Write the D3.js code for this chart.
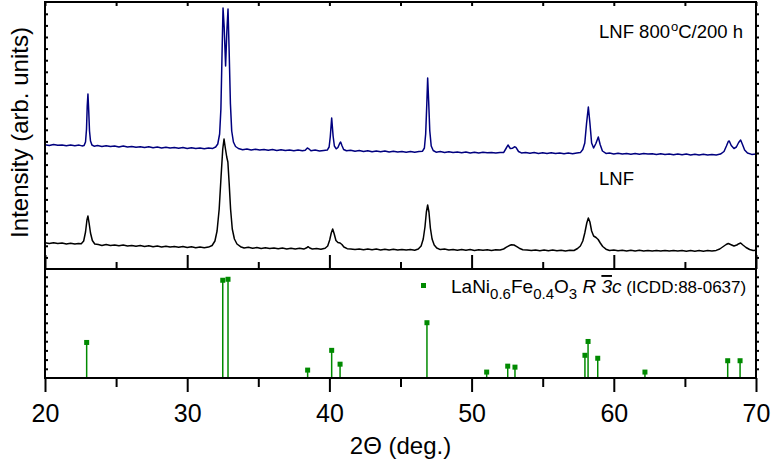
<!DOCTYPE html>
<html>
<head>
<meta charset="utf-8">
<script src="https://cdn.jsdelivr.net/npm/d3@7"></script>
<style>
  body { margin: 0; background: #fff; }
  svg { display: block; font-family: "Liberation Sans", Arial, sans-serif; }
</style>
</head>
<body>
<svg width="772" height="466"></svg>
<script>
// XRD patterns, 2theta (deg) vs intensity (arb. units, already offset as plotted)
var lnf800 = [
 [20.0,124.3],[20.3,123.5],[20.6,124.6],[20.9,123.8],[21.2,124.1],[21.5,123.2],[21.8,124.0],[22.1,123.3],[22.4,123.9],[22.6,123.1],
 [22.75,123.6],[22.85,127],[22.92,140],[22.97,163],[23.02,175],[23.07,160],[23.13,138],[23.2,128],[23.3,124],[23.45,122.8],
 [23.7,123.5],[24.0,122.6],[24.3,123.3],[24.6,122.4],[24.9,123.0],[25.2,122.1],[25.5,122.9],[25.8,121.9],[26.1,122.6],[26.4,121.7],
 [26.7,122.3],[27.0,121.4],[27.3,122.2],[27.6,121.3],[27.9,121.9],[28.2,121.0],[28.5,121.8],[28.8,120.9],[29.1,121.6],[29.4,120.7],
 [29.7,121.4],[30.0,120.6],[30.3,121.3],[30.6,120.4],[30.9,121.1],[31.2,120.3],[31.5,121.0],[31.8,120.6],[32.0,122],[32.15,125],
 [32.28,135],[32.37,160],[32.45,215],[32.52,261],[32.6,242],[32.7,203],[32.79,238],[32.87,260],[32.95,218],[33.04,165],
 [33.13,138],[33.25,127],[33.4,122.5],[33.6,120.5],[33.9,119.3],[34.2,120.0],[34.5,119.1],[34.8,119.8],[35.1,118.9],[35.4,119.6],
 [35.7,118.7],[36.0,119.4],[36.3,118.6],[36.6,119.3],[36.9,118.4],[37.2,119.1],[37.5,118.3],[37.8,119.0],[38.1,118.2],[38.3,118.8],
 [38.45,121],[38.55,120.2],[38.7,118.3],[39.0,118.9],[39.3,118.0],[39.6,118.6],[39.85,118.9],[39.98,122],[40.06,132],[40.16,151],
 [40.26,133],[40.35,123],[40.48,120.2],[40.6,121.5],[40.72,125.5],[40.79,127],[40.88,123.5],[41.0,119.5],[41.2,118.2],[41.5,118.7],
 [41.8,117.8],[42.1,118.4],[42.4,117.5],[42.7,118.2],[43.0,117.3],[43.3,118.0],[43.6,117.2],[43.9,117.9],[44.2,117.0],[44.5,117.7],
 [44.8,116.9],[45.1,117.6],[45.4,116.8],[45.7,117.5],[46.0,116.7],[46.3,117.4],[46.55,117.8],[46.68,121],[46.77,135],[46.85,165],
 [46.91,191],[46.98,168],[47.06,138],[47.16,123],[47.3,118.5],[47.5,116.8],[47.8,117.4],[48.1,116.5],[48.4,117.2],[48.7,116.4],
 [49.0,117.0],[49.3,116.2],[49.6,116.9],[49.9,116.1],[50.2,116.8],[50.5,116.0],[50.8,116.7],[51.1,116.3],[51.4,116.5],[51.7,115.9],
 [52.0,116.6],[52.25,116.4],[52.42,120.5],[52.56,124],[52.72,120.5],[52.88,120.8],[53.02,122.2],[53.12,121.6],[53.3,117.5],[53.5,116.1],
 [53.8,116.6],[54.1,115.8],[54.4,116.4],[54.7,115.6],[55.0,116.3],[55.3,115.5],[55.6,116.2],[55.9,115.4],[56.2,116.0],[56.5,115.3],
 [56.8,115.9],[57.1,115.2],[57.4,115.9],[57.65,116.4],[57.82,119.5],[57.96,126],[58.08,145],[58.21,162],[58.32,146],[58.44,126],
 [58.58,121],[58.74,125.5],[58.91,132],[59.04,124.5],[59.2,118],[59.45,115.6],[59.7,115.9],[60.0,115.1],[60.3,115.8],[60.6,114.9],
 [60.9,115.6],[61.2,114.8],[61.5,115.5],[61.8,114.7],[62.1,115.4],[62.4,114.9],[62.7,115.3],[63.0,114.5],[63.3,115.2],[63.6,114.4],
 [63.9,115.1],[64.2,114.3],[64.5,115.0],[64.8,114.2],[65.1,114.9],[65.4,114.1],[65.7,114.8],[66.0,114.0],[66.3,114.7],[66.6,114.0],
 [66.9,114.6],[67.2,114.1],[67.5,114.9],[67.75,117.5],[67.92,123],[68.05,127.5],[68.12,128],[68.26,123.5],[68.45,120.5],[68.62,122],
 [68.78,126.5],[68.92,129],[69.05,124.5],[69.2,119],[69.4,116],[69.7,114.6],[70.0,115.0]
];

var lnf = [
 [20.0,26.2],[20.3,25.4],[20.6,26.3],[20.9,25.5],[21.2,26.0],[21.5,25.1],[21.8,25.8],[22.1,24.9],[22.35,25.5],[22.55,25.3],
 [22.72,28],[22.85,37],[22.95,49],[23.02,53],[23.1,46],[23.2,36],[23.33,28.5],[23.5,25],[23.75,24.5],[24.0,23.6],
 [24.3,24.4],[24.6,23.5],[24.9,24.1],[25.2,23.2],[25.5,23.9],[25.8,23.0],[26.1,23.6],[26.4,22.7],[26.7,23.4],[27.0,22.5],
 [27.3,23.2],[27.6,22.3],[27.9,22.9],[28.2,22.1],[28.5,22.8],[28.8,21.9],[29.1,22.5],[29.4,21.7],[29.7,22.4],[30.0,21.5],
 [30.3,22.2],[30.6,21.3],[30.9,22.0],[31.2,21.2],[31.5,21.9],[31.75,23.5],[31.95,28],[32.1,38],[32.25,60],[32.38,92],
 [32.5,120],[32.59,130],[32.68,121],[32.78,112],[32.86,107],[32.95,86],[33.05,60],[33.17,40],[33.32,30],[33.5,25],
 [33.75,22.3],[34.0,21.0],[34.3,21.7],[34.6,20.8],[34.9,21.5],[35.2,20.6],[35.5,21.3],[35.8,20.4],[36.1,21.1],[36.4,20.2],
 [36.7,20.9],[37.0,20.1],[37.3,20.8],[37.6,20.0],[37.9,20.7],[38.2,19.9],[38.4,21.2],[38.5,22.3],[38.62,21],[38.8,20.0],
 [39.1,20.6],[39.4,19.8],[39.7,20.8],[39.88,23],[40.02,29],[40.13,36],[40.23,40],[40.34,35],[40.46,28.5],[40.6,26.5],
 [40.75,26],[40.88,24.5],[41.02,22],[41.25,20.3],[41.5,20.1],[41.8,19.4],[42.1,20.1],[42.4,19.3],[42.7,20.0],[43.0,19.2],
 [43.3,19.9],[43.6,19.1],[43.9,19.8],[44.2,19.0],[44.5,19.7],[44.8,18.9],[45.1,19.6],[45.4,18.9],[45.7,19.5],[46.0,18.8],
 [46.25,20],[46.45,23],[46.6,30],[46.72,42],[46.82,57],[46.91,64],[47.0,57],[47.1,41],[47.22,30],[47.37,24],
 [47.55,21],[47.8,19.4],[48.1,19.9],[48.4,19.0],[48.7,19.6],[49.0,18.8],[49.3,19.5],[49.6,18.7],[49.9,19.4],[50.2,18.6],
 [50.5,19.3],[50.8,18.7],[51.1,19.3],[51.4,18.6],[51.7,19.2],[52.0,19.0],[52.25,20],[52.45,21.8],[52.62,23.2],[52.8,24.2],
 [52.98,24],[53.15,22.6],[53.35,20.8],[53.6,19.3],[53.9,19.0],[54.2,18.4],[54.5,19.1],[54.8,18.3],[55.1,19.0],[55.4,18.2],
 [55.7,18.9],[56.0,18.2],[56.3,18.8],[56.6,18.1],[56.9,18.8],[57.2,18.5],[57.45,20.5],[57.65,23],[57.82,28],[57.96,36],
 [58.1,46],[58.21,51],[58.32,47],[58.44,38],[58.58,33],[58.75,31.5],[58.9,29.5],[59.05,26],[59.22,22.5],[59.45,19.8],
 [59.7,18.5],[60.0,18.9],[60.3,18.2],[60.6,18.8],[60.9,18.1],[61.2,18.7],[61.5,18.0],[61.8,18.7],[62.1,18.0],[62.4,18.6],
 [62.7,18.0],[63.0,18.6],[63.3,17.9],[63.6,18.6],[63.9,17.9],[64.2,18.5],[64.5,17.9],[64.8,18.5],[65.1,17.8],[65.4,18.5],
 [65.7,17.8],[66.0,18.4],[66.3,17.8],[66.6,18.4],[66.9,18.0],[67.2,18.6],[67.45,20],[67.7,22.5],[67.9,24.5],[68.05,25.5],
 [68.25,24.3],[68.45,23],[68.65,24],[68.8,25.3],[68.92,26],[69.08,24],[69.3,21.5],[69.55,19.5],[69.8,18.6],[70.0,18.8]
];

// ICDD 88-0637 reference lines
var refPos = [22.93, 32.5, 32.87, 38.47, 40.16, 40.75, 46.86, 51.06, 52.54, 53.05, 57.97, 58.19, 58.87, 62.19, 68.01, 68.88];
var refInt = [36, 99, 100, 8, 28, 14, 56, 6, 12, 11, 23, 37, 20, 6, 17.5, 17.5];

var xMajor = [20, 30, 40, 50, 60, 70];
var xMinor = [25, 35, 45, 55, 65];

var svg = d3.select("svg");
var pLeft = 45, pRight = 756, pTop = 2, pMid = 269, pBottom = 378;
var navy = "#00007f", green = "#008a00";

var x = d3.scaleLinear().domain([20, 70]).range([pLeft, pRight]);
var yTop = d3.scaleLinear().domain([0, 267]).range([pMid, pTop]);
var yBot = d3.scaleLinear().domain([0, 110.4]).range([pBottom, pMid]);

svg.append("clipPath").attr("id", "clipTop")
  .append("rect").attr("x", pLeft).attr("y", pTop).attr("width", pRight - pLeft).attr("height", pMid - pTop);

var line = d3.line().x(function(d){ return x(d[0]); }).y(function(d){ return yTop(d[1]); });

var traces = svg.append("g").attr("clip-path", "url(#clipTop)");
traces.append("path").datum(lnf)
  .attr("d", line).attr("fill", "none").attr("stroke", "#000").attr("stroke-width", 1.5)
  .attr("stroke-linejoin", "round");
traces.append("path").datum(lnf800)
  .attr("d", line).attr("fill", "none").attr("stroke", navy).attr("stroke-width", 1.5)
  .attr("stroke-linejoin", "round");

// stick pattern
var sticks = svg.append("g");
sticks.selectAll("line").data(refPos).enter().append("line")
  .attr("x1", function(d){ return x(d); }).attr("x2", function(d){ return x(d); })
  .attr("y1", yBot(0)).attr("y2", function(d, i){ return yBot(refInt[i]); })
  .attr("stroke", green).attr("stroke-width", 1.5);
sticks.selectAll("rect").data(refPos).enter().append("rect")
  .attr("x", function(d){ return x(d) - 2.5; })
  .attr("y", function(d, i){ return yBot(refInt[i]) - 2.5; })
  .attr("width", 5).attr("height", 5).attr("fill", green);

// axes
function styleAxis(g){
  g.select(".domain").remove();
  g.selectAll(".tick line").attr("stroke", "#000").attr("stroke-width", 2);
  g.selectAll(".tick text").remove();
}

// bottom axis with labels
var xAxisB = svg.append("g").attr("transform", "translate(0," + pBottom + ")")
  .call(d3.axisBottom(x).tickValues(xMajor).tickSize(14).tickPadding(12).tickFormat(d3.format("d")));
xAxisB.select(".domain").remove();
xAxisB.selectAll(".tick line").attr("stroke", "#000").attr("stroke-width", 2);
xAxisB.selectAll(".tick text").attr("font-size", 25).attr("fill", "#000")
  .attr("font-family", "'Liberation Sans', Arial, sans-serif");
svg.append("g").attr("transform", "translate(0," + pBottom + ")")
  .call(d3.axisBottom(x).tickValues(xMinor).tickSize(9)).call(styleAxis);

// divider ticks pointing up into the top panel
svg.append("g").attr("transform", "translate(0," + pMid + ")")
  .call(d3.axisTop(x).tickValues(xMajor).tickSize(14)).call(styleAxis);
svg.append("g").attr("transform", "translate(0," + pMid + ")")
  .call(d3.axisTop(x).tickValues(xMinor).tickSize(7)).call(styleAxis);

// top border ticks
svg.append("g").attr("transform", "translate(0," + pTop + ")")
  .call(d3.axisBottom(x).tickValues(xMajor.concat(xMinor)).tickSize(4)).call(styleAxis);

// minor y ticks on both spines
var topTicks = d3.range(1, 23).map(function(k){ return pMid - k * 11.6; });
var botTicks = d3.range(1, 12).map(function(k){ return pBottom - k * 9.2; });
var px = d3.scaleIdentity().domain([0, 466]);
[pLeft, pRight].forEach(function(xp){
  svg.append("g").attr("transform", "translate(" + xp + ",0)")
    .call(d3.axisRight(px).tickValues(topTicks).tickSize(3)).call(styleAxis);
  svg.append("g").attr("transform", "translate(" + xp + ",0)")
    .call(d3.axisRight(px).tickValues(botTicks).tickSize(3)).call(styleAxis);
});

// frames
var frame = svg.append("g").attr("fill", "none").attr("stroke", "#000").attr("stroke-width", 2);
frame.append("rect").attr("x", pLeft).attr("y", pTop).attr("width", pRight - pLeft).attr("height", pBottom - pTop);
frame.append("line").attr("x1", pLeft).attr("x2", pRight).attr("y1", pMid).attr("y2", pMid);

// labels
svg.append("text")
  .attr("transform", "translate(28," + ((pTop + pMid) / 2 - 3) + ") rotate(-90)")
  .attr("text-anchor", "middle").attr("font-size", 24)
  .text("Intensity (arb. units)");

svg.append("text").attr("x", (pLeft + pRight) / 2).attr("y", 454)
  .attr("text-anchor", "middle").attr("font-size", 24)
  .text("2\u0398 (deg.)");

var t1 = svg.append("text").attr("x", 599).attr("y", 38).attr("font-size", 18.5);
t1.append("tspan").text("LNF 800");
t1.append("tspan").attr("font-size", 13).attr("dy", -7).attr("dx", 1).text("o");
t1.append("tspan").attr("dy", 7).text("C/200 h");

svg.append("text").attr("x", 599).attr("y", 185).attr("font-size", 18.5).text("LNF");

// legend
svg.append("rect").attr("x", 421).attr("y", 283).attr("width", 5).attr("height", 5).attr("fill", green);
var lg = svg.append("text").attr("x", 451).attr("y", 293).attr("font-size", 19);
lg.append("tspan").text("LaNi");
lg.append("tspan").attr("font-size", 15).attr("dy", 6).text("0.6");
lg.append("tspan").attr("dy", -6).text("Fe");
lg.append("tspan").attr("font-size", 15).attr("dy", 6).text("0.4");
lg.append("tspan").attr("font-size", 19).attr("dy", -6).text("O");
lg.append("tspan").attr("font-size", 15).attr("dy", 6).text("3");
lg.append("tspan").attr("dy", -6).attr("font-style", "italic").text(" R  ");
lg.append("tspan").attr("font-style", "italic").style("text-decoration", "overline").text("3");
lg.append("tspan").attr("font-style", "italic").text("c");
lg.append("tspan").attr("font-size", 17).text(" (ICDD:88-0637)");
</script>
</body>
</html>
